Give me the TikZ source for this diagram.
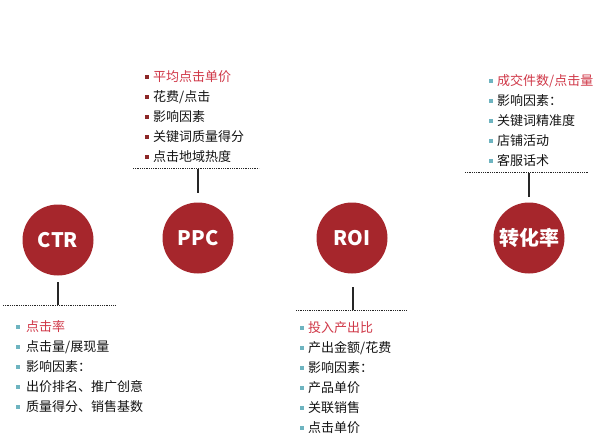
\documentclass[tikz,border=0pt]{standalone}
\usepackage{fontspec}
\setmainfont{Noto Sans CJK SC}
\definecolor{circred}{RGB}{166,38,44}
\definecolor{hired}{RGB}{208,56,72}
\definecolor{txtgray}{RGB}{20,20,20}
\definecolor{teal}{RGB}{110,180,192}
\definecolor{maroon}{RGB}{140,40,40}
\tikzset{
  metric/.style={circle, fill=circred, minimum size=71pt, inner sep=0pt, text=white, font=\fontsize{20}{20}\selectfont\bfseries},
  item/.style={anchor=west, inner sep=0pt, text=txtgray, font=\fontsize{13}{13}\selectfont},
  headitem/.style={item, text=hired},
  bul/.style={fill=#1, minimum size=3.5pt, inner sep=0pt},
  stem/.style={draw=black!85, line width=1.5pt},
  rule/.style={draw=black!85, line width=1pt, dash pattern=on 1pt off 0.8pt}
}
\begin{document}
\begin{tikzpicture}[x=1pt,y=-1pt]
\useasboundingbox (0,0) rectangle (600,441);
\fill[white] (0,0) rectangle (600,441);

% circles
\node[metric] (ctr) at (58,240) {CTR};
\node[metric] (ppc) at (198,238) {PPC};
\node[metric] (roi) at (352,238) {ROI};
\node[metric] (cvr) at (529,238) {转化率};

% CTR
\coordinate (ctrA) at (58,282);
\coordinate (ctrB) at (58,305);
\coordinate (ctrL) at (3,305);
\coordinate (ctrR) at (116,305);
\draw[stem] (ctrA) -- (ctrB);
\draw[rule] (ctrL) -- (ctrR);
\foreach \i in {0,...,4}{
  \node[bul=teal] (ctrb\i) at (18,327+20*\i) {};
}
\node[headitem] (ctr0) at (26,327) {点击率};
\node[item] (ctr1) at (26,347) {点击量/展现量};
\node[item] (ctr2) at (26,367) {影响因素：};
\node[item] (ctr3) at (26,387) {出价排名、推广创意};
\node[item] (ctr4) at (26,407) {质量得分、销售基数};

% PPC
\coordinate (ppcA) at (198,193);
\coordinate (ppcB) at (198,169);
\coordinate (ppcL) at (133,169);
\coordinate (ppcR) at (259,169);
\draw[stem] (ppcA) -- (ppcB);
\draw[rule] (ppcL) -- (ppcR);
\foreach \i in {0,...,4}{
  \node[bul=maroon] (ppcb\i) at (147,77+20*\i) {};
}
\node[headitem] (ppc0) at (153,77) {平均点击单价};
\node[item] (ppc1) at (153,97) {花费/点击};
\node[item] (ppc2) at (153,117) {影响因素};
\node[item] (ppc3) at (153,137) {关键词质量得分};
\node[item] (ppc4) at (153,157) {点击地域热度};

% ROI
\coordinate (roiA) at (353,287);
\coordinate (roiB) at (353,310);
\coordinate (roiL) at (296,310);
\coordinate (roiR) at (407,310);
\draw[stem] (roiA) -- (roiB);
\draw[rule] (roiL) -- (roiR);
\foreach \i in {0,...,5}{
  \node[bul=teal] (roib\i) at (302,328+20*\i) {};
}
\node[headitem] (roi0) at (308,328) {投入产出比};
\node[item] (roi1) at (308,348) {产出金额/花费};
\node[item] (roi2) at (308,368) {影响因素：};
\node[item] (roi3) at (308,388) {产品单价};
\node[item] (roi4) at (308,408) {关联销售};
\node[item] (roi5) at (308,428) {点击单价};

% 转化率
\coordinate (cvrA) at (529,197);
\coordinate (cvrB) at (529,173);
\coordinate (cvrL) at (465,173);
\coordinate (cvrR) at (589,173);
\draw[stem] (cvrA) -- (cvrB);
\draw[rule] (cvrL) -- (cvrR);
\foreach \i in {0,...,4}{
  \node[bul=teal] (cvrb\i) at (491,81+20*\i) {};
}
\node[headitem] (cvr0) at (497,81) {成交件数/点击量};
\node[item] (cvr1) at (497,101) {影响因素：};
\node[item] (cvr2) at (497,121) {关键词精准度};
\node[item] (cvr3) at (497,141) {店铺活动};
\node[item] (cvr4) at (497,161) {客服话术};
\end{tikzpicture}
\end{document}
